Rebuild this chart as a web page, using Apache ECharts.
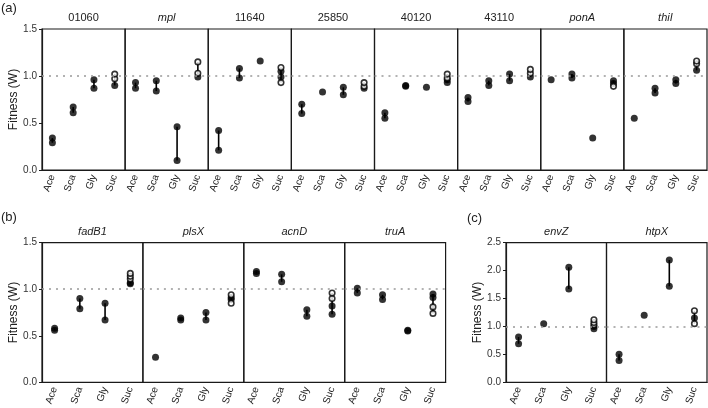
<!DOCTYPE html>
<html>
<head>
<meta charset="utf-8">
<script src="https://cdn.jsdelivr.net/npm/echarts@6/dist/echarts.min.js"></script>
<style>
html, body { margin: 0; padding: 0; background: #fff; }
#chart { width: 708px; height: 408px; }
</style>
</head>
<body>
<div id="chart"></div>
<script>
// carbon sources on every x axis
var cats = ['Ace', 'Sca', 'Gly', 'Suc'];

// filled points, one list per carbon source; *Open = open circles (Suc only)
var g01060 = [[0.29, 0.34], [0.61, 0.67], [0.87, 0.96], [0.90]];
var g01060Open = [0.97, 1.02];
var mpl = [[0.87, 0.93], [0.84, 0.95], [0.10, 0.46], [0.99]];
var mplOpen = [1.03, 1.15];
var g11640 = [[0.21, 0.42], [0.98, 1.08], [1.16], [0.99, 1.05]];
var g11640Open = [0.93, 1.09];
var g25850 = [[0.60, 0.70], [0.83], [0.80, 0.88], [0.87]];
var g25850Open = [0.89, 0.93];
var g40120 = [[0.55, 0.61], [0.89, 0.90], [0.88], [0.93, 0.96]];
var g40120Open = [0.98, 1.02];
var g43110 = [[0.73, 0.77], [0.90, 0.95], [0.95, 1.02], [0.99]];
var g43110Open = [1.03, 1.07];
var ponA = [[0.96], [0.98, 1.02], [0.34], [0.92, 0.95]];
var ponAOpen = [0.89];
var thiI = [[0.55], [0.82, 0.87], [0.92, 0.96], [1.06]];
var thiIOpen = [1.13, 1.16];

var fadB1 = [[0.56, 0.58], [0.79, 0.90], [0.67, 0.85], [1.06, 1.07]];
var fadB1Open = [1.11, 1.14, 1.17];
var plsX = [[0.27], [0.67, 0.69], [0.67, 0.75], [0.89, 0.91]];
var plsXOpen = [0.85, 0.94];
var acnD = [[1.17, 1.19], [1.08, 1.16], [0.71, 0.78], [0.73, 0.82]];
var acnDOpen = [0.90, 0.96];
var truA = [[0.96, 1.01], [0.89, 0.94], [0.55, 0.56], [0.91, 0.95]];
var truAOpen = [0.74, 0.81];

var envZ = [[0.69, 0.81], [1.05], [1.67, 2.06], [0.96, 1.00]];
var envZOpen = [1.03, 1.07, 1.12];
var htpX = [[0.39, 0.50], [1.20], [1.72, 2.19], [1.15]];
var htpXOpen = [1.05, 1.28];

// facet name, filled, open, italic label?
var facetsA = [
    ['01060', g01060, g01060Open, false],
    ['mpl', mpl, mplOpen, true],
    ['11640', g11640, g11640Open, false],
    ['25850', g25850, g25850Open, false],
    ['40120', g40120, g40120Open, false],
    ['43110', g43110, g43110Open, false],
    ['ponA', ponA, ponAOpen, true],
    ['thiI', thiI, thiIOpen, true]
];
var facetsB = [
    ['fadB1', fadB1, fadB1Open, true],
    ['plsX', plsX, plsXOpen, true],
    ['acnD', acnD, acnDOpen, true],
    ['truA', truA, truAOpen, true]
];
var facetsC = [
    ['envZ', envZ, envZOpen, true],
    ['htpX', htpX, htpXOpen, true]
];

var FONT = '"Liberation Sans", Arial, sans-serif';
var chart = echarts.init(document.getElementById('chart'));

var grids = [], xAxes = [], yAxes = [], series = [], texts = [];

// vertical segment from min to max of each carbon source
function renderRange(params, api) {
    var a = api.coord([api.value(0), api.value(1)]);
    var b = api.coord([api.value(0), api.value(2)]);
    return {
        type: 'line',
        shape: { x1: a[0], y1: a[1], x2: b[0], y2: b[1] },
        style: { stroke: '#000', lineWidth: 1.6 }
    };
}

function addPanel(facets, left, right, top, height, yMax, stripY) {
    var w = (right - left) / facets.length;
    facets.forEach(function (f, i) {
        var gi = grids.length;
        grids.push({
            left: left + i * w, top: top, width: w, height: height,
            show: true, borderColor: '#1a1a1a', borderWidth: 1.2,
            backgroundColor: 'transparent'
        });
        xAxes.push({
            type: 'category', gridIndex: gi, data: cats,
            axisLine: { lineStyle: { color: '#1a1a1a', width: 1.2 } },
            axisTick: { alignWithLabel: true, length: 3, lineStyle: { color: '#1a1a1a' } },
            axisLabel: { rotate: 70, fontSize: 10, color: '#222', margin: 5, fontFamily: FONT, interval: 0 },
            splitLine: { show: false }
        });
        yAxes.push({
            type: 'value', gridIndex: gi, min: 0, max: yMax, interval: 0.5,
            show: i === 0,
            name: 'Fitness (W)', nameLocation: 'middle', nameGap: 22,
            nameTextStyle: { fontSize: 12, color: '#222', fontFamily: FONT },
            axisLine: { show: true, lineStyle: { color: '#1a1a1a', width: 1.2 } },
            axisTick: { show: true, length: 3, lineStyle: { color: '#1a1a1a' } },
            axisLabel: { fontSize: 10, color: '#333', margin: 5, fontFamily: FONT,
                formatter: function (v) { return v.toFixed(1); } },
            splitLine: { show: false }
        });

        var filled = [], open = [], ranges = [];
        f[1].forEach(function (vals, c) {
            var all = vals.concat(c === 3 ? f[2] : []);
            vals.forEach(function (v) { filled.push([c, v]); });
            ranges.push([c, Math.min.apply(null, all), Math.max.apply(null, all)]);
        });
        f[2].forEach(function (v) { open.push([3, v]); });

        series.push({
            type: 'custom', xAxisIndex: gi, yAxisIndex: gi, z: 2,
            renderItem: renderRange, data: ranges, silent: true
        });
        series.push({
            type: 'scatter', xAxisIndex: gi, yAxisIndex: gi, z: 3,
            symbolSize: 7, itemStyle: { color: '#000' }, data: filled,
            markLine: {
                silent: true, symbol: 'none', label: { show: false },
                lineStyle: { color: '#999', type: [2, 5], width: 1.5 },
                data: [{ yAxis: 1 }]
            }
        });
        series.push({
            type: 'scatter', xAxisIndex: gi, yAxisIndex: gi, z: 4,
            symbolSize: 5.5, itemStyle: { color: '#fff', borderColor: '#000', borderWidth: 1.6 },
            data: open
        });

        texts.push({
            type: 'text', x: left + (i + 0.5) * w, y: stripY,
            style: {
                text: f[0], fill: '#222', fontSize: 11, fontFamily: FONT,
                fontStyle: f[3] ? 'italic' : 'normal',
                align: 'center', verticalAlign: 'middle'
            }
        });
    });
}

addPanel(facetsA, 42, 707, 29, 141, 1.5, 18);
addPanel(facetsB, 42, 445.6, 242.7, 140, 1.5, 232);
addPanel(facetsC, 506, 707, 242.7, 140, 2.5, 232);

// panel letters
[['(a)', 1, 8], ['(b)', 1, 217], ['(c)', 467, 218]].forEach(function (p) {
    texts.push({
        type: 'text', x: p[1], y: p[2],
        style: { text: p[0], fill: '#222', fontSize: 13, fontFamily: FONT, align: 'left', verticalAlign: 'middle' }
    });
});

var option = {
    animation: false,
    grid: grids,
    xAxis: xAxes,
    yAxis: yAxes,
    series: series,
    graphic: texts
};
chart.setOption(option);
</script>
</body>
</html>
